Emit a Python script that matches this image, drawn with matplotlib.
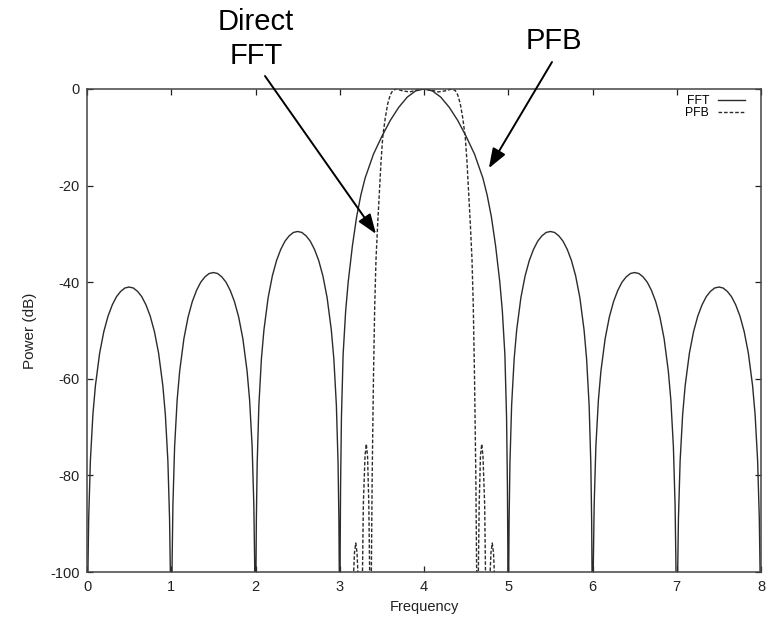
"""
Frequency response of a single channel: direct FFT against the
polyphase filter bank (PFB), power in dB across neighbouring bins.
"""

import matplotlib.pyplot as plt
from matplotlib import font_manager

# Position across one unit-wide sidelobe (0 = left null, 1 = right null)
lobe_offsets = [0.0, 0.005, 0.01, 0.02, 0.04, 0.07, 0.10, 0.15, 0.20, 0.25,
                0.30, 0.35, 0.40, 0.45, 0.50, 0.55, 0.60, 0.65, 0.70, 0.75,
                0.80, 0.85, 0.90, 0.93, 0.96, 0.98, 0.99, 0.995, 1.0]

# FFT sidelobes, dB
fft_lobe_0 = [-180, -113, -101, -89, -77, -67.4, -61.4, -54.7, -50.2, -47.0,
              -44.7, -43.0, -41.9, -41.2, -41.0, -41.2, -41.9, -43.0, -44.7,
              -47.0, -50.2, -54.7, -61.4, -67.4, -77, -89, -101, -113, -180]
fft_lobe_1 = [-180, -110, -98, -86, -74, -64.4, -58.4, -51.7, -47.2, -44.0,
              -41.7, -40.0, -38.9, -38.2, -38.0, -38.2, -38.9, -40.0, -41.7,
              -44.0, -47.2, -51.7, -58.4, -64.4, -74, -86, -98, -110, -180]
fft_lobe_2 = [-180, -101.5, -89.5, -77.5, -65.5, -55.9, -49.9, -43.2, -38.7,
              -35.5, -33.2, -31.5, -30.4, -29.7, -29.5, -29.7, -30.4, -31.5,
              -33.2, -35.5, -38.7, -43.2, -49.9, -55.9, -65.5, -77.5, -89.5,
              -101.5, -180]
fft_lobe_5 = fft_lobe_2
fft_lobe_6 = fft_lobe_1
fft_lobe_7 = fft_lobe_0
lobe_starts = [0, 1, 2, 5, 6, 7]

# FFT main lobe, bins 3..5
main_freq = [3.0, 3.005, 3.01, 3.02, 3.04, 3.07, 3.10, 3.15, 3.20, 3.25, 3.30,
             3.40, 3.50, 3.60, 3.70, 3.80, 3.90, 4.00, 4.10, 4.20, 4.30, 4.40,
             4.50, 4.60, 4.70, 4.75, 4.80, 4.85, 4.90, 4.93, 4.96, 4.98, 4.99,
             4.995, 5.0]
fft_main_db = [-180, -95, -82, -68, -55, -46, -40, -32.5, -26.5, -22, -18.5,
               -13.5, -9.8, -6.5, -3.8, -1.7, -0.4, 0.0, -0.4, -1.7, -3.8, -6.5,
               -9.8, -13.5, -18.5, -22, -26.5, -32.5, -40, -46, -55, -68, -82,
               -95, -180]

# PFB response around the passband
pfb_freq = [3.10, 3.14, 3.155, 3.165, 3.175, 3.19, 3.205, 3.215, 3.225, 3.24,
            3.26, 3.27, 3.28, 3.30, 3.315, 3.33, 3.345, 3.355, 3.365, 3.375,
            3.385, 3.40, 3.415, 3.43, 3.45, 3.47, 3.49, 3.51, 3.54, 3.57, 3.60,
            3.63, 3.67, 3.75, 3.83, 3.92, 4.00, 4.08, 4.17, 4.25, 4.33, 4.37,
            4.40, 4.43, 4.46, 4.49, 4.51, 4.53, 4.55, 4.57, 4.585, 4.60, 4.615,
            4.625, 4.635, 4.645, 4.655, 4.67, 4.685, 4.70, 4.72, 4.73, 4.74,
            4.76, 4.775, 4.785, 4.795, 4.81, 4.825, 4.835, 4.845, 4.86, 4.90]
pfb_db = [-180, -180, -130, -100, -96, -94, -96, -100, -130, -130, -130, -100,
          -86, -76, -73.5, -76, -86, -100, -130, -100, -80, -60, -45, -35.4,
          -28, -21.5, -15, -10, -6, -3, -1.2, -0.3, 0.0, -0.4, -0.6, -0.2, 0.0,
          -0.2, -0.6, -0.4, 0.0, -0.3, -1.2, -3, -6, -10, -15, -21.5, -28,
          -35.4, -45, -60, -80, -100, -130, -100, -86, -76, -73.5, -76, -86,
          -100, -130, -130, -130, -100, -96, -94, -96, -100, -130, -180, -180]

x_ticks = [0, 1, 2, 3, 4, 5, 6, 7, 8]
y_ticks = [0, -20, -40, -60, -80, -100]

installed = {f.name for f in font_manager.fontManager.ttflist}
tick_font = "Liberation Sans Narrow" if "Liberation Sans Narrow" in installed else "Liberation Sans"

plt.rcParams["axes.unicode_minus"] = False
line_color = "#2b2b2b"
text_color = "#222222"

fig = plt.figure(figsize=(7.68, 6.2), dpi=100)
ax = fig.add_axes([87 / 768, 48 / 620, 674 / 768, 483 / 620])

# stitch the FFT sidelobes and main lobe together in frequency order
lobes = [fft_lobe_0, fft_lobe_1, fft_lobe_2, fft_lobe_5, fft_lobe_6, fft_lobe_7]
fft_freq, fft_db = [], []
for start, lobe in zip(lobe_starts[:3], lobes[:3]):
    fft_freq += [start + o for o in lobe_offsets]
    fft_db += lobe
fft_freq += main_freq
fft_db += fft_main_db
for start, lobe in zip(lobe_starts[3:], lobes[3:]):
    fft_freq += [start + o for o in lobe_offsets]
    fft_db += lobe

ax.plot(fft_freq, fft_db, color=line_color, lw=1.0, label="FFT")
ax.plot(pfb_freq, pfb_db, color=line_color, lw=1.0, dashes=(2.6, 1.4), label="PFB")

ax.set_xlim(0, 8)
ax.set_ylim(-100, 0)
ax.set_xticks(x_ticks)
ax.set_yticks(y_ticks)
ax.tick_params(direction="in", length=4, width=0.9, top=True, right=True,
               labelsize=10.5, colors=text_color)
ax.tick_params(axis="x", pad=6)
ax.tick_params(axis="y", pad=5)
for lab in ax.get_xticklabels() + ax.get_yticklabels():
    lab.set_fontfamily(tick_font)
for sp in ax.spines.values():
    sp.set_color("#444444")
    sp.set_linewidth(1.1)

ax.set_xlabel("Frequency", fontsize=10.5, family=tick_font, color=text_color, labelpad=4)
ax.set_ylabel("Power (dB)", fontsize=11, family=tick_font, color=text_color, labelpad=10)

leg = ax.legend(loc="upper right", bbox_to_anchor=(1 - 14 / 674, 1 - 4 / 483),
                frameon=False, markerfirst=False,
                prop={"family": tick_font, "size": 8.8}, handlelength=2.2,
                handletextpad=0.7, labelspacing=0.0, borderaxespad=0.0,
                borderpad=0.2)

# callouts above the plot
fig.text(256 / 768, 1 - 39 / 620, "Direct\nFFT", ha="center", va="center",
         fontsize=21, family="Liberation Sans", linespacing=1.3)
fig.text(554 / 768, 1 - 41 / 620, "PFB", ha="center", va="center",
         fontsize=21, family="Liberation Sans")

arrow = dict(arrowstyle="-|>,head_length=0.6,head_width=0.22", color="black",
             lw=1.4, mutation_scale=20, shrinkA=0, shrinkB=0)
ax.annotate("", xy=(3.43, -30.0), xycoords="data",
            xytext=(265, 620 - 76), textcoords="figure pixels",
            arrowprops=arrow, annotation_clip=False)
ax.annotate("", xy=(4.77, -16.4), xycoords="data",
            xytext=(552, 620 - 62), textcoords="figure pixels",
            arrowprops=arrow, annotation_clip=False)

fig.savefig("out.png", dpi=100)
